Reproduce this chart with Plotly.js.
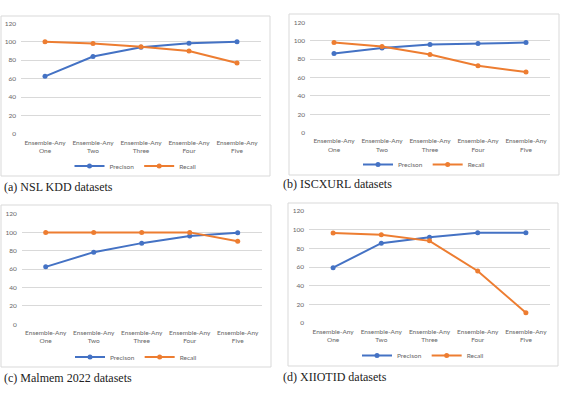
<!DOCTYPE html>
<html>
<head>
<meta charset="utf-8">
<script src="https://cdn.plot.ly/plotly-3.0.1.min.js"></script>
<style>html,body{margin:0;padding:0;background:#fff;}#chart{width:563px;height:394px;}</style>
</head>
<body>
<div id="chart"></div>
<script>
// ---- data ----
const categories = ['Ensemble-Any<br>One', 'Ensemble-Any<br>Two', 'Ensemble-Any<br>Three', 'Ensemble-Any<br>Four', 'Ensemble-Any<br>Five'];
const yTicks = [0, 20, 40, 60, 80, 100, 120];
const seriesNames = ['Precison', 'Recall'];
const captions = ['(a) NSL KDD datasets', '(b) ISCXURL datasets', '(c) Malmem 2022 datasets', '(d) XIIOTID datasets'];

const nslPrecision = [62.5, 84, 94, 98.5, 100];
const nslRecall = [100, 98, 94.5, 90, 77];
const iscxPrecision = [86, 92, 95.8, 97, 98];
const iscxRecall = [98, 93.8, 85, 72.7, 66];
const malmemPrecision = [62.5, 78.5, 88.3, 96, 99.5];
const malmemRecall = [100, 100, 100, 100, 90.3];
const xiiotidPrecision = [59.3, 85.5, 91.8, 96.8, 96.6];
const xiiotidRecall = [96.5, 94.5, 88, 55.7, 11];

// ---- layout helpers ----
const W = 563, H = 394;
const px = x => x / W;
const py = y => 1 - y / H;
const colors = ['#4472C4', '#ED7D31'];
const grey = '#666666';
const gridc = '#D9D9D9';

const panels = [
  {p: nslPrecision, r: nslRecall, plot: [21, 261, 23.3, 134], box: [1, 270, 16, 176], legY: 166, cap: [2, 187]},
  {p: iscxPrecision, r: iscxRecall, plot: [310, 550, 22.3, 132.7], box: [289, 559, 14, 175], legY: 164.5, cap: [281, 184]},
  {p: malmemPrecision, r: malmemRecall, plot: [21.7, 261.7, 214, 324.3], box: [1, 271, 205, 367], legY: 357, cap: [2, 377.5]},
  {p: xiiotidPrecision, r: xiiotidRecall, plot: [309, 550, 211, 323], box: [288, 558, 203, 366], legY: 355.5, cap: [281, 377]}
];

const traces = [];
const layout = {
  width: W, height: H,
  margin: {l: 0, r: 0, t: 0, b: 0},
  paper_bgcolor: '#fff', plot_bgcolor: 'rgba(0,0,0,0)',
  font: {family: 'Lato, "Liberation Sans", sans-serif', color: grey, size: 7},
  shapes: [], annotations: []
};

panels.forEach((pn, i) => {
  const n = i + 1;
  const xa = n === 1 ? 'x' : 'x' + n;
  const ya = n === 1 ? 'y' : 'y' + n;
  const lg = n === 1 ? 'legend' : 'legend' + n;
  [pn.p, pn.r].forEach((vals, k) => {
    traces.push({
      type: 'scatter', mode: 'lines+markers',
      x: categories, y: vals,
      name: seriesNames[k],
      xaxis: xa, yaxis: ya, legend: lg,
      line: {color: colors[k], width: 2},
      marker: {color: colors[k], size: 5, symbol: 'circle'},
      cliponaxis: false
    });
  });
  const [x0, x1, yt, yb] = pn.plot;
  layout[(n === 1 ? 'xaxis' : 'xaxis' + n)] = {
    domain: [px(x0), px(x1)], anchor: ya,
    type: 'category', range: [-0.5, 4.5],
    showgrid: false, zeroline: false, showline: false,
    ticks: '', ticklabelstandoff: 3,
    tickfont: {size: 6.5, color: grey}, fixedrange: true
  };
  layout[(n === 1 ? 'yaxis' : 'yaxis' + n)] = {
    domain: [py(yb), py(yt)], anchor: xa,
    range: [0, 120], tickvals: yTicks,
    showgrid: true, gridcolor: gridc, gridwidth: 1,
    zeroline: false, showline: false, ticks: '',
    ticklabelstandoff: 4,
    tickfont: {size: 6.5, color: grey}, fixedrange: true
  };
  const [bx0, bx1, by0, by1] = pn.box;
  layout[lg] = {
    orientation: 'h', x: px((bx0 + bx1) / 2), xanchor: 'center',
    y: py(pn.legY), yanchor: 'middle',
    font: {size: 6.5, color: grey}, bgcolor: 'rgba(0,0,0,0)',
    itemwidth: 30, tracegroupgap: 0
  };
  layout.shapes.push({
    type: 'rect', xref: 'paper', yref: 'paper',
    x0: px(bx0), x1: px(bx1), y0: py(by1), y1: py(by0),
    line: {color: gridc, width: 1}, fillcolor: 'rgba(0,0,0,0)', layer: 'below'
  });
  layout.annotations.push({
    xref: 'paper', yref: 'paper', x: px(pn.cap[0]), y: py(pn.cap[1]),
    xanchor: 'left', yanchor: 'middle', showarrow: false,
    text: captions[i],
    font: {family: '"Liberation Serif", "DejaVu Serif", serif', size: 12, color: '#222'}
  });
});

Plotly.newPlot('chart', traces, layout, {displayModeBar: false, staticPlot: true});
</script>
</body>
</html>
